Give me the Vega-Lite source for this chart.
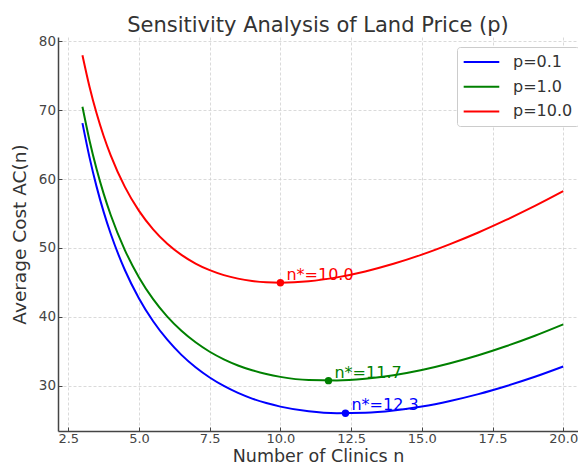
{
  "$schema": "https://vega.github.io/schema/vega-lite/v6.json",
  "autosize": "none",
  "width": 520,
  "height": 394,
  "padding": {"left": 58, "top": 37, "right": 0, "bottom": 38},
  "background": "white",
  "config": {"font": "DejaVu Sans", "view": {"stroke": null}},
  "title": {"text": "Sensitivity Analysis of Land Price (p)", "fontSize": 21, "font": "DejaVu Sans", "fontWeight": "normal", "color": "#333333", "anchor": "middle", "offset": -2},
  "datasets": {
    "curves": [
      {"n": 3, "AC": 68.13, "series": "p=0.1"}, {"n": 3.25, "AC": 63.16, "series": "p=0.1"}, {"n": 3.5, "AC": 58.91, "series": "p=0.1"}, {"n": 3.75, "AC": 55.24, "series": "p=0.1"}, {"n": 4, "AC": 52.06, "series": "p=0.1"}, {"n": 4.5, "AC": 46.80, "series": "p=0.1"}, {"n": 5, "AC": 42.67, "series": "p=0.1"}, {"n": 5.5, "AC": 39.36, "series": "p=0.1"}, {"n": 6, "AC": 36.68, "series": "p=0.1"}, {"n": 6.5, "AC": 34.48, "series": "p=0.1"}, {"n": 7, "AC": 32.68, "series": "p=0.1"}, {"n": 7.5, "AC": 31.19, "series": "p=0.1"}, {"n": 8, "AC": 29.96, "series": "p=0.1"}, {"n": 8.5, "AC": 28.95, "series": "p=0.1"}, {"n": 9, "AC": 28.13, "series": "p=0.1"}, {"n": 9.5, "AC": 27.48, "series": "p=0.1"}, {"n": 10, "AC": 26.96, "series": "p=0.1"}, {"n": 11, "AC": 26.28, "series": "p=0.1"}, {"n": 12, "AC": 26.01, "series": "p=0.1"}, {"n": 13, "AC": 26.07, "series": "p=0.1"}, {"n": 14, "AC": 26.40, "series": "p=0.1"}, {"n": 15, "AC": 26.98, "series": "p=0.1"}, {"n": 16, "AC": 27.79, "series": "p=0.1"}, {"n": 17, "AC": 28.78, "series": "p=0.1"}, {"n": 18, "AC": 29.96, "series": "p=0.1"}, {"n": 19, "AC": 31.29, "series": "p=0.1"}, {"n": 20, "AC": 32.78, "series": "p=0.1"},
      {"n": 3, "AC": 70.50, "series": "p=1.0"}, {"n": 3.25, "AC": 65.62, "series": "p=1.0"}, {"n": 3.5, "AC": 61.47, "series": "p=1.0"}, {"n": 3.75, "AC": 57.89, "series": "p=1.0"}, {"n": 4, "AC": 54.79, "series": "p=1.0"}, {"n": 4.5, "AC": 49.70, "series": "p=1.0"}, {"n": 5, "AC": 45.72, "series": "p=1.0"}, {"n": 5.5, "AC": 42.57, "series": "p=1.0"}, {"n": 6, "AC": 40.03, "series": "p=1.0"}, {"n": 6.5, "AC": 37.97, "series": "p=1.0"}, {"n": 7, "AC": 36.30, "series": "p=1.0"}, {"n": 7.5, "AC": 34.93, "series": "p=1.0"}, {"n": 8, "AC": 33.83, "series": "p=1.0"}, {"n": 8.5, "AC": 32.94, "series": "p=1.0"}, {"n": 9, "AC": 32.24, "series": "p=1.0"}, {"n": 9.5, "AC": 31.69, "series": "p=1.0"}, {"n": 10, "AC": 31.28, "series": "p=1.0"}, {"n": 11, "AC": 30.82, "series": "p=1.0"}, {"n": 12, "AC": 30.75, "series": "p=1.0"}, {"n": 13, "AC": 31.00, "series": "p=1.0"}, {"n": 14, "AC": 31.52, "series": "p=1.0"}, {"n": 15, "AC": 32.28, "series": "p=1.0"}, {"n": 16, "AC": 33.26, "series": "p=1.0"}, {"n": 17, "AC": 34.42, "series": "p=1.0"}, {"n": 18, "AC": 35.76, "series": "p=1.0"}, {"n": 19, "AC": 37.25, "series": "p=1.0"}, {"n": 20, "AC": 38.90, "series": "p=1.0"},
      {"n": 3, "AC": 77.99, "series": "p=10.0"}, {"n": 3.25, "AC": 73.42, "series": "p=10.0"}, {"n": 3.5, "AC": 69.56, "series": "p=10.0"}, {"n": 3.75, "AC": 66.26, "series": "p=10.0"}, {"n": 4, "AC": 63.44, "series": "p=10.0"}, {"n": 4.5, "AC": 58.87, "series": "p=10.0"}, {"n": 5, "AC": 55.39, "series": "p=10.0"}, {"n": 5.5, "AC": 52.71, "series": "p=10.0"}, {"n": 6, "AC": 50.62, "series": "p=10.0"}, {"n": 6.5, "AC": 49.00, "series": "p=10.0"}, {"n": 7, "AC": 47.74, "series": "p=10.0"}, {"n": 7.5, "AC": 46.78, "series": "p=10.0"}, {"n": 8, "AC": 46.06, "series": "p=10.0"}, {"n": 8.5, "AC": 45.55, "series": "p=10.0"}, {"n": 9, "AC": 45.21, "series": "p=10.0"}, {"n": 9.5, "AC": 45.02, "series": "p=10.0"}, {"n": 10, "AC": 44.96, "series": "p=10.0"}, {"n": 11, "AC": 45.16, "series": "p=10.0"}, {"n": 12, "AC": 45.73, "series": "p=10.0"}, {"n": 13, "AC": 46.59, "series": "p=10.0"}, {"n": 14, "AC": 47.70, "series": "p=10.0"}, {"n": 15, "AC": 49.03, "series": "p=10.0"}, {"n": 16, "AC": 50.56, "series": "p=10.0"}, {"n": 17, "AC": 52.25, "series": "p=10.0"}, {"n": 18, "AC": 54.11, "series": "p=10.0"}, {"n": 19, "AC": 56.10, "series": "p=10.0"}, {"n": 20, "AC": 58.24, "series": "p=10.0"}
    ],
    "optima": [
      {"n": 12.3, "AC": 25.99, "series": "p=0.1", "label": "n*=12.3"},
      {"n": 11.7, "AC": 30.73, "series": "p=1.0", "label": "n*=11.7"},
      {"n": 10.0, "AC": 44.96, "series": "p=10.0", "label": "n*=10.0"}
    ]
  },
  "encoding": {
    "x": {"field": "n", "type": "quantitative",
      "scale": {"domain": [2.136, 20.523], "nice": false, "zero": false},
      "axis": {"values": [2.5, 5, 7.5, 10, 12.5, 15, 17.5, 20], "format": ".1f", "title": "Number of Clinics n",
        "titleFont": "DejaVu Sans", "titleFontSize": 17.5, "titleFontWeight": "normal", "titleColor": "#333333", "titlePadding": 2,
        "labelFont": "DejaVu Sans", "labelFontSize": 13, "labelColor": "#444444", "labelPadding": 5,
        "grid": true, "gridDash": [3, 2], "gridColor": "#d0d0d0", "gridWidth": 0.8,
        "domainColor": "#444444", "domainWidth": 1.5, "ticks": true, "tickSize": -4, "tickColor": "#444444", "tickWidth": 1}},
    "y": {"field": "AC", "type": "quantitative",
      "scale": {"domain": [23.42, 80.64], "nice": false, "zero": false},
      "axis": {"values": [30, 40, 50, 60, 70, 80], "format": "d", "title": "Average Cost AC(n)",
        "titleFont": "DejaVu Sans", "titleFontSize": 18.5, "titleFontWeight": "normal", "titleColor": "#333333", "titlePadding": 9,
        "labelFont": "DejaVu Sans", "labelFontSize": 13.5, "labelColor": "#444444", "labelPadding": 6.5,
        "grid": true, "gridDash": [3, 2], "gridColor": "#d0d0d0", "gridWidth": 0.8,
        "domainColor": "#444444", "domainWidth": 1.5, "ticks": true, "tickSize": -4, "tickColor": "#444444", "tickWidth": 1}},
    "color": {"field": "series", "type": "nominal",
      "scale": {"domain": ["p=0.1", "p=1.0", "p=10.0"], "range": ["#0000ff", "#008000", "#ff0000"]},
      "legend": {"orient": "none", "legendX": 399, "legendY": 10, "title": null,
        "symbolType": "M-1.04,0H3.41", "symbolSize": 256, "symbolStrokeWidth": 2,
        "labelFont": "DejaVu Sans", "labelFontSize": 16, "labelColor": "#333333", "labelOffset": 32,
        "rowPadding": 7.7, "padding": 6, "fillColor": "white", "strokeColor": "#cccccc", "cornerRadius": 3}}
  },
  "layer": [
    {"data": {"name": "curves"}, "mark": {"type": "line", "strokeWidth": 2, "interpolate": "monotone", "clip": true}},
    {"data": {"name": "optima"}, "mark": {"type": "circle", "size": 55, "opacity": 1}},
    {"data": {"name": "optima"}, "mark": {"type": "text", "align": "left", "baseline": "alphabetic", "dx": 6, "dy": -3, "fontSize": 16, "font": "DejaVu Sans"},
      "encoding": {"text": {"field": "label", "type": "nominal"}}}
  ]
}
